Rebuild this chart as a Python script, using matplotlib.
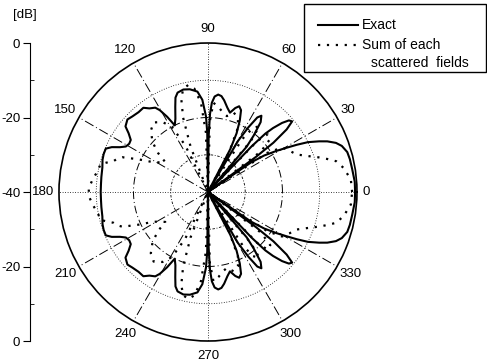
import numpy as np
import matplotlib
matplotlib.use("Agg")
import matplotlib.pyplot as plt
from matplotlib.lines import Line2D
from matplotlib.patches import Rectangle

plt.rcParams['font.family'] = ['Liberation Sans', 'DejaVu Sans']

# pattern values, upper half (0..180 deg), mirrored below
exact_deg = [0, 4, 9, 13, 16, 19, 21, 23, 24.5, 26.5, 28, 29.5, 31, 33, 34.5, 35.5,
             36.2, 37, 38.5, 40, 41.5, 43, 44.5, 45.5, 46.3, 47,
             49.5, 51, 53, 55, 56.5, 58, 59.5, 60.8,
             62.5, 64, 66, 68, 70, 72, 74.5, 77, 80, 82, 84, 86, 87.5, 88.5, 89.3, 90,
             90.7, 91.5, 93.5, 96, 100, 103.5, 107, 109, 111, 114, 116.5,
             118.5, 120.5, 122, 125, 127.5, 131, 135, 138, 141.5, 143.5, 146, 148.5,
             151, 153, 155, 157, 160, 163, 167, 172, 176, 180]
exact_db = [-0.5, -0.5, -0.8, -0.9, -1.1, -2.0, -3.2, -5.2, -7.2, -10, -13, -16, -18.6, -22, -26, -40,
            -24, -18, -13, -10.5, -11, -12.8, -15.5, -18, -23, -40,
            -24, -20.5, -16.5, -15, -16, -19.5, -24, -40,
            -27, -22.5, -19, -16.3, -15.5, -16.3, -17.9, -16.8, -15, -14, -13.7, -14.3, -16, -19, -25, -40,
            -24, -19.7, -15.2, -12.9, -12, -11.7, -12.1, -13.2, -15.5, -18.5, -20,
            -17, -14.5, -13.3, -12.6, -11.5, -11.6, -11.3, -10.9, -11.7, -13.5, -15, -15.2,
            -14.8, -13.5, -11.5, -10.2, -10.2, -10.4, -10.9, -11.1, -11.2, -11.2]

sum_deg = [0, 5, 10, 13.5, 15.5, 17.5, 19.5, 23, 27, 31, 33.5, 35,
           37.5, 40.5, 44, 46, 48, 50, 52, 55, 57, 59,
           62, 65, 68, 72, 76, 79, 83, 86.5, 88.5, 90,
           92, 94.5, 97.5, 100.5, 103.5, 106, 108.5, 111, 113,
           116, 119, 123, 128, 133, 138, 142, 145, 148, 151.4, 154.8, 157.9,
           160, 162, 164, 165.5, 169, 173.6, 178, 180]
sum_db = [-1.3, -1.5, -3, -4.6, -6.8, -9, -11.2, -14.2, -15.5, -16.8, -21, -40,
          -22, -18, -17.7, -21, -40, -22, -17.6, -19, -23, -40,
          -28, -21, -18.5, -17.6, -19, -18.4, -17, -16, -21, -40,
          -24, -16, -12, -10.8, -11.5, -14, -19, -27, -40,
          -26, -20, -17.6, -16.3, -17.5, -20, -23, -26, -25, -23.3, -19.4, -15.2,
          -14, -13.3, -11.5, -10.2, -9.9, -8.9, -8, -8]

theta_ticks = [0, 30, 60, 90, 120, 150, 180, 210, 240, 270, 300, 330]
theta_labels = [str(t) for t in theta_ticks]
db_ticks = [40, 20, 0, -20, -40]
db_labels = ['0', '-20', '-40', '-20', '0']


def mirror(deg, db):
    d = np.array(deg, dtype=float)
    v = np.array(db, dtype=float)
    full_d = np.concatenate([d, 360 - d[::-1][1:]])
    full_v = np.concatenate([v, v[::-1][1:]])
    return np.deg2rad(full_d), full_v


fig = plt.figure(figsize=(4.87, 3.62), dpi=100)
ax = fig.add_axes([0.1211, 0.0580, 0.6119, 0.8232], projection='polar')
ax.set_ylim(-40, 0)
ax.set_yticks([])
ax.grid(False)
ax.spines['polar'].set_linewidth(1.2)

ax.set_xticks(np.deg2rad(theta_ticks))
ax.set_xticklabels([])
ax.set_xticks(np.deg2rad(np.arange(15, 360, 30)), minor=True)
ax.tick_params(axis='x', which='major', length=0)
ax.tick_params(axis='x', which='minor', direction='in', length=4, width=0.8)

# angle labels just outside the rim
for t, lbl in zip(theta_ticks, theta_labels):
    a = np.deg2rad(t)
    hw = 3.3 * len(lbl)
    ax.annotate(lbl, xy=(a, 0), xytext=(np.cos(a) * (6 + hw), np.sin(a) * 14.5),
                textcoords='offset pixels', ha='center', va='center',
                fontsize=9.5, annotation_clip=False)

# grid
circ = np.linspace(0, 2 * np.pi, 361)
ax.plot(circ, np.full_like(circ, -20), color='k', lw=0.7, ls=(0, (8, 3, 1, 3)))
ax.plot(circ, np.full_like(circ, -10), color='k', lw=0.6, ls=(0, (1, 2)))
ax.plot(circ, np.full_like(circ, -30), color='k', lw=0.6, ls=(0, (3, 2, 1, 2)))
for a in [30, 60, 120, 150, 210, 240, 300, 330]:
    ax.plot([np.deg2rad(a)] * 2, [-40, 0], color='k', lw=0.7, ls=(0, (10, 3, 1, 3)))
for a in [0, 90, 180, 270]:
    ax.plot([np.deg2rad(a)] * 2, [-40, 0], color='k', lw=0.6, ls=(0, (1, 2)))

th, r = mirror(exact_deg, exact_db)
ax.plot(th, r, color='k', lw=1.5)
th, r = mirror(sum_deg, sum_db)
ax.plot(th, r, color='k', lw=1.6, ls=(0, (1, 3)))

# left dB scale
ax2 = fig.add_axes([30 / 487, 0.0580, 0.01, 0.8232])
ax2.set_ylim(-40, 40)
ax2.set_xticks([])
for s in ['top', 'right', 'bottom']:
    ax2.spines[s].set_visible(False)
ax2.patch.set_visible(False)
ax2.set_yticks(db_ticks)
ax2.set_yticklabels(db_labels, fontsize=9.5)
ax2.set_yticks([30, 10, -10, -30], minor=True)
ax2.tick_params(axis='y', which='major', direction='out', length=5, pad=2)
ax2.tick_params(axis='y', which='minor', direction='in', length=3)
fig.text(25 / 487, 1 - 15 / 362, '[dB]', fontsize=9.5, ha='center', va='center')

# legend box
fig.add_artist(Rectangle((304 / 487, 1 - 72 / 362), 182 / 487, 68 / 362,
                         transform=fig.transFigure, fill=False, lw=1, ec='k'))
fig.add_artist(Line2D([318 / 487, 358 / 487], [1 - 25 / 362] * 2, color='k', lw=1.5))
fig.add_artist(Line2D([318 / 487, 358 / 487], [1 - 45 / 362] * 2, color='k', lw=1.6,
                      ls=(0, (1, 3))))
fig.text(362 / 487, 1 - 25 / 362, 'Exact', fontsize=10, va='center')
fig.text(362 / 487, 1 - 45 / 362, 'Sum of each', fontsize=10, va='center')
fig.text(371 / 487, 1 - 63 / 362, 'scattered  fields', fontsize=10, va='center')

fig.savefig('out.png', dpi=100)
